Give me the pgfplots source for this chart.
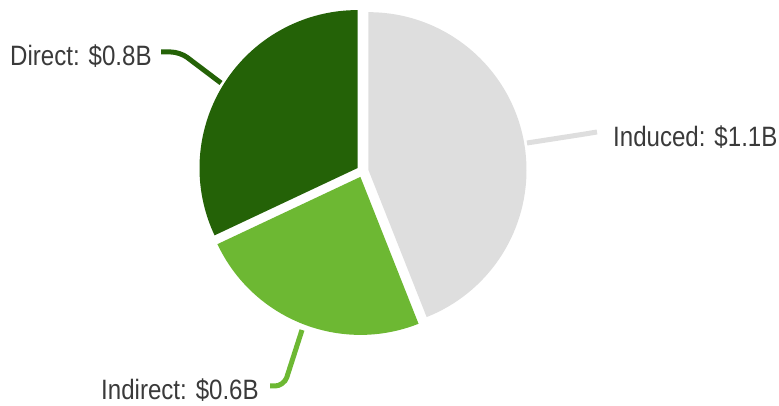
\documentclass[border=0pt]{standalone}
\usepackage{pgfplots}
\pgfplotsset{compat=1.18}
\usepackage{pgfplotstable}
\usepackage{fontspec}
\setmainfont{Liberation Sans}[FakeStretch=0.86]
\definecolor{direct}{HTML}{246207}
\definecolor{indirect}{HTML}{6DB833}
\definecolor{induced}{HTML}{DEDEDE}
\definecolor{txt}{HTML}{3A3A3A}
\pgfplotstableread{
name value
Induced 1.1
Indirect 0.6
Direct 0.8
}\piedata
\begin{document}
\begin{tikzpicture}
\pgfplotstablegetelem{0}{value}\of\piedata \let\vA\pgfplotsretval
\pgfplotstablegetelem{1}{value}\of\piedata \let\vB\pgfplotsretval
\pgfplotstablegetelem{2}{value}\of\piedata \let\vC\pgfplotsretval
\pgfmathsetmacro\tot{\vA+\vB+\vC}
\pgfmathsetmacro\aA{90}
\pgfmathsetmacro\aB{90-360*\vA/\tot}
\pgfmathsetmacro\aC{\aB-360*\vB/\tot}
\pgfmathsetmacro\aD{\aC-360*\vC/\tot}
\pgfmathsetmacro\mA{(\aA+\aB)/2}
\pgfmathsetmacro\mB{(\aB+\aC)/2}
\pgfmathsetmacro\mC{(\aC+\aD)/2}
\def\R{158pt}
\useasboundingbox (0,0) rectangle (779pt,406pt);
\begin{axis}[at={(0,0)}, anchor=south west, scale only axis,
  width=779pt, height=406pt, xmin=0, xmax=779, ymin=0, ymax=406,
  hide axis, clip=false]
\addplot[draw=none] coordinates {(0,0) (779,406)};
\fill[induced, shift={(\mA:6pt)}] (axis cs:362.6,234.7) -- ++(\aA:\R) arc[start angle=\aA, end angle=\aB, radius=\R] -- cycle;
\fill[indirect, shift={(\mB:6pt)}] (axis cs:362.6,234.7) -- ++(\aB:\R) arc[start angle=\aB, end angle=\aC, radius=\R] -- cycle;
\fill[direct, shift={(\mC:6pt)}] (axis cs:362.6,234.7) -- ++(\aC:\R) arc[start angle=\aC, end angle=\aD, radius=\R] -- cycle;
\draw[direct, line width=5pt, rounded corners=9pt] (axis cs:161,354) -- (axis cs:180,354) -- (axis cs:221,323);
\draw[induced, line width=5pt, rounded corners=9pt] (axis cs:527,263) -- (axis cs:585,272) -- (axis cs:597,274);
\draw[indirect, line width=5pt, rounded corners=9pt] (axis cs:302,76) -- (axis cs:284,20) -- (axis cs:270,20);
\node[anchor=base west, inner sep=0, text=txt, font=\fontsize{28}{30}\selectfont] at (axis cs:10,340) {Direct: \$0.8B};
\node[anchor=base west, inner sep=0, text=txt, font=\fontsize{28}{30}\selectfont] at (axis cs:613,259) {Induced: \$1.1B};
\node[anchor=base west, inner sep=0, text=txt, font=\fontsize{28}{30}\selectfont] at (axis cs:101,6) {Indirect: \$0.6B};
\end{axis}
\end{tikzpicture}
\end{document}
